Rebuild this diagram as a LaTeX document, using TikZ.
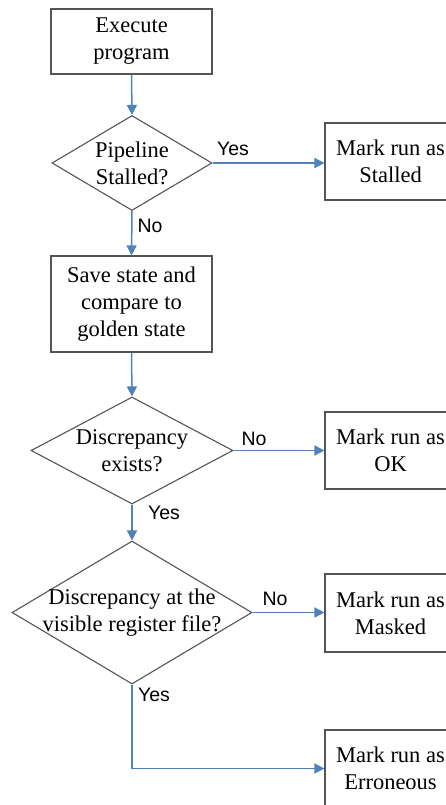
\documentclass[tikz,border=0pt]{standalone}
\usepackage{fontspec}
\setmainfont{Liberation Serif}
\newfontfamily\labfont{Liberation Sans}
\usetikzlibrary{shapes.geometric,arrows.meta,positioning}
\definecolor{flowblue}{RGB}{79,129,189}
\definecolor{edgegray}{RGB}{85,85,85}
\tikzset{
  procbox/.style={draw=edgegray, line width=1.1pt, rectangle, inner sep=0pt, align=center,
    font=\fontsize{22.5}{27}\selectfont},
  decision/.style={draw=edgegray, line width=1.1pt, shape=diamond, inner sep=0pt},
  dtext/.style={align=center, inner sep=0pt, font=\fontsize{22.5}{27}\selectfont},
  edgelabel/.style={inner sep=0pt, font=\labfont\fontsize{19.5}{22}\selectfont},
  flow/.style={draw=flowblue, line width=1.5pt, -{Triangle[length=10pt,width=10pt]}}
}
\begin{document}
\begin{tikzpicture}[x=1pt,y=-1pt]
\useasboundingbox (0,0) rectangle (445,805);
% process boxes
\node[procbox, minimum width=161pt, minimum height=65pt] (exec) at (131.5,41.5) {Execute\\program};
\node[procbox, minimum width=161pt, minimum height=96pt] (save) at (131.5,304) {Save state and\\compare to\\golden state};
\node[procbox, minimum width=131pt, minimum height=77pt] (stalled) at (390.5,161.5) {Mark run as\\Stalled};
\node[procbox, minimum width=131pt, minimum height=77pt] (ok) at (390.5,450.5) {Mark run as\\OK};
\node[procbox, minimum width=131pt, minimum height=78pt] (masked) at (390.5,613) {Mark run as\\Masked};
\node[procbox, minimum width=131pt, minimum height=77pt] (err) at (390.5,768.5) {Mark run as\\Erroneous};
% decisions
\node[decision, minimum width=160pt, minimum height=95pt] (d1) at (132,163) {};
\node[dtext] (d1t) at (d1.center) {Pipeline\\Stalled?};
\node[decision, minimum width=202pt, minimum height=107pt] (d2) at (132,450.5) {};
\node[dtext] (d2t) at (d2.center) {Discrepancy\\exists?};
\node[decision, minimum width=240pt, minimum height=143pt] (d3) at (132,612.5) {};
\node[dtext] (d3t) at (d3.center) {Discrepancy at the\\visible register file?};
% connectors
\draw[flow] (exec.south) -- (d1.north);
\draw[flow] (d1.east) -- (d1.east -| stalled.west);
\draw[flow] (d1.south) -- (save.north);
\draw[flow] (save.south) -- (d2.north);
\draw[flow] (d2.east) -- (d2.east -| ok.west);
\draw[flow] (d2.south) -- (d3.north);
\draw[flow] (d3.east) -- (d3.east -| masked.west);
\draw[flow] (d3.south) |- (err.west);
% labels
\node[edgelabel] (l1) at (233,149) {Yes};
\node[edgelabel] (l2) at (150,226) {No};
\node[edgelabel] (l3) at (254,439) {No};
\node[edgelabel] (l4) at (164,513) {Yes};
\node[edgelabel] (l5) at (275,599) {No};
\node[edgelabel] (l6) at (154,695) {Yes};
\end{tikzpicture}
\end{document}
